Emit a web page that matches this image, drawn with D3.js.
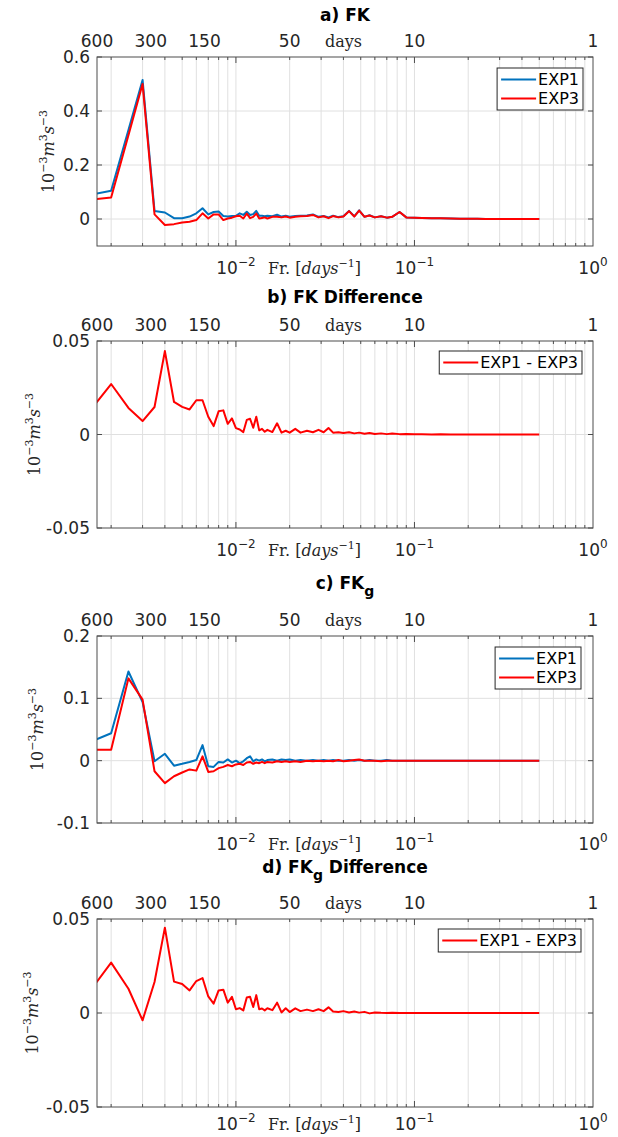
<!DOCTYPE html>
<html>
<head>
<meta charset="utf-8">
<script src="https://cdn.jsdelivr.net/npm/d3@7"></script>
<style>
  body { margin: 0; background: #ffffff; }
  svg { display: block; }
</style>
</head>
<body>
<svg id="chart" width="618" height="1137"></svg>
<script>
// ---------------- DATA ----------------
// Frequencies (days^-1) of the spectral estimates (k / 2000 days)
const freq = [
  0.0015, 0.002, 0.0025, 0.003, 0.0035, 0.004, 0.0045, 0.005, 0.0055, 0.006,
  0.0065, 0.007, 0.0075, 0.008, 0.0085, 0.009, 0.0095, 0.01, 0.0105, 0.011,
  0.0115, 0.012, 0.0125, 0.013, 0.0135, 0.014, 0.0145, 0.015,
  0.016, 0.017, 0.018, 0.019, 0.02,
  0.0215, 0.023, 0.025, 0.027, 0.029, 0.031, 0.033, 0.035, 0.0375, 0.04, 0.043, 0.046, 0.049,
  0.0525, 0.056, 0.06, 0.065, 0.07, 0.075, 0.0825, 0.09, 0.1,
  0.11, 0.125, 0.14, 0.16, 0.18, 0.2, 0.225, 0.25,
  0.3, 0.35, 0.4, 0.45, 0.5
];

// a) FK  (10^-3 m^3 s^-3)
const fkExp1 = [
  0.088, 0.105, 0.33, 0.515, 0.030, 0.024, 0.003, 0.003, 0.009, 0.021,
  0.040, 0.017, 0.026, 0.028, 0.011, 0.009, 0.011, 0.012, 0.021, 0.015,
  0.027, 0.015, 0.018, 0.030, 0.012, 0.012, 0.010, 0.012,
  0.010, 0.016, 0.009, 0.012, 0.008,
  0.011, 0.012, 0.013, 0.017, 0.008, 0.011, 0.006, 0.012, 0.007, 0.010, 0.030, 0.010, 0.032,
  0.008, 0.014, 0.006, 0.010, 0.005, 0.008, 0.026, 0.006, 0.005,
  0.004, 0.003, 0.003, 0.002, 0.001, 0.001, 0.001, 0.000,
  0.000, 0.000, 0.000, 0.000, 0.000
];
const fkExp3 = [
  0.070, 0.080, 0.31, 0.500, 0.017, -0.022, -0.019, -0.013, -0.010, -0.004,
  0.021, 0.002, 0.017, 0.017, -0.004, 0.002, 0.005, 0.010, 0.012, 0.002,
  0.020, 0.003, 0.008, 0.020, 0.002, 0.004, 0.006, 0.002,
  0.008, 0.008, 0.006, 0.009, 0.005,
  0.008, 0.010, 0.011, 0.015, 0.006, 0.010, 0.003, 0.011, 0.006, 0.009, 0.029, 0.009, 0.031,
  0.008, 0.013, 0.006, 0.010, 0.005, 0.008, 0.026, 0.006, 0.005,
  0.004, 0.003, 0.003, 0.002, 0.001, 0.001, 0.001, 0.000,
  0.000, 0.000, 0.000, 0.000, 0.000
];
// b) FK Difference (EXP1 - EXP3)
const fkDiff = [
  0.012, 0.027, 0.0142, 0.0072, 0.0147, 0.0446, 0.0174, 0.0148, 0.0134, 0.0183,
  0.0183, 0.0095, 0.0045, 0.0124, 0.0129, 0.0057, 0.0086, 0.0034, 0.0027, 0.0013,
  0.0078, 0.0084, 0.0036, 0.0095, 0.0022, 0.0030, 0.0015, 0.0025,
  0.0013, 0.0060, 0.0010, 0.0020, 0.0010,
  0.0030, 0.0010, 0.0020, 0.0012, 0.0025, 0.0012, 0.0035, 0.0010, 0.0012, 0.0008, 0.0012, 0.0006, 0.0010,
  0.0004, 0.0008, 0.0003, 0.0006, 0.0002, 0.0005, 0.0002, 0.0003, 0.0001,
  0.0001, 0.0000, 0.0001, 0.0000, 0.0000, 0.0000, 0.0000, 0.0000,
  0.0000, 0.0000, 0.0000, 0.0000, 0.0000
];
// c) FKg
const fkgExp1 = [
  0.029, 0.044, 0.143, 0.094, -0.001, 0.011, -0.008, -0.005, -0.002, 0.001,
  0.025, -0.009, -0.010, -0.002, -0.003, 0.002, -0.003, 0.000, -0.004, -0.001,
  0.004, 0.007, -0.001, 0.002, 0.000, 0.002, -0.001, 0.001,
  0.002, 0.000, 0.002, 0.001, 0.002,
  0.000, 0.001, 0.000, 0.001, 0.000, 0.001, 0.000, 0.001, 0.000, 0.000, 0.001, 0.000, 0.001,
  0.000, 0.001, 0.000, 0.000, 0.001, 0.000, 0.000, 0.000, 0.000,
  0.000, 0.000, 0.000, 0.000, 0.000, 0.000, 0.000, 0.000,
  0.000, 0.000, 0.000, 0.000, 0.000
];
const fkgExp3 = [
  0.0176, 0.0176, 0.132, 0.098, -0.017, -0.036, -0.025, -0.019, -0.014, -0.016,
  0.007, -0.018, -0.017, -0.012, -0.010, -0.007, -0.009, -0.006, -0.005, -0.007,
  -0.003, -0.002, -0.005, -0.003, -0.004, -0.002, -0.004, -0.002,
  -0.003, -0.001, -0.002, -0.001, -0.002,
  -0.001, -0.002, 0.000, -0.001, 0.000, -0.001, 0.000, -0.001, 0.001, -0.001, 0.000, 0.001, 0.002,
  0.000, 0.000, 0.000, -0.001, 0.000, 0.000, 0.000, 0.000, 0.000,
  0.000, 0.000, 0.000, 0.000, 0.000, 0.000, 0.000, 0.000,
  0.000, 0.000, 0.000, 0.000, 0.000
];
// d) FKg Difference (EXP1 - EXP3)
const fkgDiff = [
  0.0109, 0.0268, 0.0129, -0.0039, 0.0165, 0.0454, 0.0167, 0.0154, 0.0120, 0.0170,
  0.0186, 0.0088, 0.0050, 0.0120, 0.0124, 0.0055, 0.0086, 0.0020, 0.0026, 0.0014,
  0.0082, 0.0086, 0.0032, 0.0095, 0.0020, 0.0024, 0.0014, 0.0025,
  0.0015, 0.0055, 0.0003, 0.0025, 0.0005,
  0.0025, 0.0010, 0.0018, 0.0010, 0.0020, 0.0010, 0.0030, 0.0008, 0.0005, 0.0010, 0.0003, 0.0008, 0.0002,
  0.0006, -0.0002, 0.0003, 0.0001, 0.0000, 0.0001, 0.0000, 0.0000, 0.0000,
  0.0000, 0.0000, 0.0000, 0.0000, 0.0000, 0.0000, 0.0000, 0.0000,
  0.0000, 0.0000, 0.0000, 0.0000, 0.0000
];

// Axis tick definitions
const topTickDays   = [600, 300, 150, 50, 25, 10, 1];
const topTickLabels = ["600", "300", "150", "50", "days", "10", "1"];
const bottomTickValues = [0.01, 0.1, 1];
const bottomTickExps   = ["-2", "-1", "0"];
const yTicksFK      = [0, 0.2, 0.4, 0.6];
const yTicksDiff    = [-0.05, 0, 0.05];
const yTicksFKg     = [-0.1, 0, 0.1, 0.2];
const yDomainFK     = [-0.1, 0.6];
const yDomainDiff   = [-0.05, 0.05];
const yDomainFKg    = [-0.1, 0.2];
const xDomain       = [1 / 600, 1];

const seriesNames = ["EXP1", "EXP3", "EXP1 - EXP3"];
const colorExp1 = "#0072BD";
const colorExp3 = "#FF0000";

// ---------------- LAYOUT ----------------
const SANS = "'DejaVu Sans', sans-serif";
const SERIF = "'DejaVu Serif', serif";
const left = 97, right = 593;

const panels = [
  { title: "a) FK", sub: null, rest: "", yDomain: yDomainFK, yTicks: yTicksFK,
    series: [{ name: seriesNames[0], values: fkExp1, color: colorExp1 },
             { name: seriesNames[1], values: fkExp3, color: colorExp3 }],
    top: 57, bottom: 246, titleY: 21, xlabelY: 274, ylabelX: 54, legendRight: 583, legendTop: 68 },
  { title: "b) FK Difference", sub: null, rest: "", yDomain: yDomainDiff, yTicks: yTicksDiff,
    series: [{ name: seriesNames[2], values: fkDiff, color: colorExp3 }],
    top: 341, bottom: 528, titleY: 303, xlabelY: 556, ylabelX: 40, legendRight: 582, legendTop: 351 },
  { title: "c) FK", sub: "g", rest: "", yDomain: yDomainFKg, yTicks: yTicksFKg,
    series: [{ name: seriesNames[0], values: fkgExp1, color: colorExp1 },
             { name: seriesNames[1], values: fkgExp3, color: colorExp3 }],
    top: 636, bottom: 823, titleY: 589, xlabelY: 850, ylabelX: 43, legendRight: 581, legendTop: 647 },
  { title: "d) FK", sub: "g", rest: " Difference", yDomain: yDomainDiff, yTicks: yTicksDiff,
    series: [{ name: seriesNames[2], values: fkgDiff, color: colorExp3 }],
    top: 919, bottom: 1107, titleY: 873, xlabelY: 1130, ylabelX: 38, legendRight: 581, legendTop: 929 }
];

const svg = d3.select("#chart");
svg.append("rect").attr("width", 618).attr("height", 1137).attr("fill", "#fff");

const x = d3.scaleLog().domain(xDomain).range([left, right]);
const xGridVals = x.ticks().filter(v => v > xDomain[0] * 1.0001 && v < xDomain[1] * 0.9999);
const isMajor = v => Math.abs(Math.log10(v) - Math.round(Math.log10(v))) < 1e-9;

panels.forEach((p, i) => {
  const g = svg.append("g");
  const y = d3.scaleLinear().domain(p.yDomain).range([p.bottom, p.top]);

  // grid
  g.append("g").selectAll("line").data(xGridVals).join("line")
    .attr("x1", d => x(d)).attr("x2", d => x(d))
    .attr("y1", p.top).attr("y2", p.bottom)
    .attr("stroke", "#e0e0e0").attr("stroke-width", 1);
  g.append("g").selectAll("line").data(p.yTicks.filter(v => v > p.yDomain[0] && v < p.yDomain[1])).join("line")
    .attr("x1", left).attr("x2", right)
    .attr("y1", d => y(d)).attr("y2", d => y(d))
    .attr("stroke", "#e0e0e0").attr("stroke-width", 1);

  // clip
  const clipId = "clip" + i;
  svg.append("clipPath").attr("id", clipId).append("rect")
    .attr("x", left).attr("y", p.top).attr("width", right - left).attr("height", p.bottom - p.top);

  // lines
  const line = d3.line().x(d => x(d[0])).y(d => y(d[1]));
  p.series.forEach(s => {
    g.append("path")
      .attr("clip-path", `url(#${clipId})`)
      .attr("d", line(freq.map((f, j) => [f, s.values[j]])))
      .attr("fill", "none").attr("stroke", s.color)
      .attr("stroke-width", 2).attr("stroke-linejoin", "round");
  });

  // box
  g.append("rect").attr("x", left).attr("y", p.top)
    .attr("width", right - left).attr("height", p.bottom - p.top)
    .attr("fill", "none").attr("stroke", "#4d4d4d").attr("stroke-width", 1);

  // x ticks (top & bottom, inside)
  const tickG = g.append("g").attr("stroke", "#4d4d4d").attr("stroke-width", 1);
  xGridVals.forEach(v => {
    const len = isMajor(v) ? 6 : 3;
    tickG.append("line").attr("x1", x(v)).attr("x2", x(v)).attr("y1", p.bottom).attr("y2", p.bottom - len);
    tickG.append("line").attr("x1", x(v)).attr("x2", x(v)).attr("y1", p.top).attr("y2", p.top + len);
  });
  p.yTicks.forEach(v => {
    tickG.append("line").attr("x1", left).attr("x2", left + 5).attr("y1", y(v)).attr("y2", y(v));
    tickG.append("line").attr("x1", right).attr("x2", right - 5).attr("y1", y(v)).attr("y2", y(v));
  });

  // y tick labels
  g.append("g").selectAll("text").data(p.yTicks).join("text")
    .attr("x", left - 7).attr("y", d => y(d)).attr("dy", "0.36em")
    .attr("text-anchor", "end").attr("font-family", SANS).attr("font-size", 17)
    .attr("fill", "#262626")
    .text(d => String(d));

  // top (days) tick labels
  g.append("g").selectAll("text").data(topTickDays).join("text")
    .attr("x", d => x(1 / d)).attr("y", p.top - 10)
    .attr("text-anchor", "middle")
    .attr("font-family", (d, j) => topTickLabels[j] === "days" ? SERIF : SANS)
    .attr("font-size", (d, j) => topTickLabels[j] === "days" ? 16 : 17)
    .attr("fill", "#262626")
    .text((d, j) => topTickLabels[j]);

  // bottom tick labels 10^n
  bottomTickValues.forEach((v, j) => {
    const t = g.append("text").attr("x", x(v)).attr("y", p.xlabelY)
      .attr("text-anchor", "middle").attr("font-family", SANS).attr("font-size", 17)
      .attr("fill", "#262626");
    t.append("tspan").text("10");
    t.append("tspan").attr("dy", -8).attr("font-size", 12).text(bottomTickExps[j].replace("-", "\u2212"));
  });

  // x label
  const xl = g.append("text").attr("x", 268).attr("y", p.xlabelY)
    .attr("font-family", SERIF).attr("font-size", 16).attr("fill", "#262626");
  xl.append("tspan").text("Fr. [");
  xl.append("tspan").attr("font-style", "italic").text("days");
  xl.append("tspan").attr("dy", -7).attr("font-size", 11).text("\u22121");
  xl.append("tspan").attr("dy", 7).text("]");

  // y label
  const yl = g.append("text")
    .attr("transform", `translate(${p.ylabelX},${(p.top + p.bottom) / 2}) rotate(-90)`)
    .attr("text-anchor", "middle").attr("font-family", SERIF).attr("font-size", 16)
    .attr("fill", "#262626");
  yl.append("tspan").text("10");
  yl.append("tspan").attr("dy", -7).attr("font-size", 11).text("\u22123");
  yl.append("tspan").attr("dy", 7).attr("font-style", "italic").text("m");
  yl.append("tspan").attr("dy", -7).attr("font-size", 11).text("3");
  yl.append("tspan").attr("dy", 7).attr("font-style", "italic").text("s");
  yl.append("tspan").attr("dy", -7).attr("font-size", 11).text("\u22123");

  // title
  const tt = g.append("text").attr("x", (left + right) / 2).attr("y", p.titleY)
    .attr("text-anchor", "middle").attr("font-family", SANS).attr("font-weight", "bold")
    .attr("font-size", 17).attr("fill", "#000");
  tt.append("tspan").text(p.title);
  if (p.sub) {
    tt.append("tspan").attr("dy", 7).attr("font-size", 14).text(p.sub);
    if (p.rest) tt.append("tspan").attr("dy", -7).text(p.rest);
  }

  // legend
  const rowH = 19, lineLen = 35;
  const lg = g.append("g");
  const texts = p.series.map(s => s.name);
  const tmp = lg.append("text").attr("font-family", SANS).attr("font-size", 16).text(texts.reduce((a, b) => a.length > b.length ? a : b));
  const tw = tmp.node().getComputedTextLength();
  tmp.remove();
  const lw = 4 + lineLen + 2 + tw + 4;
  const lh = p.series.length * rowH + 4;
  const lx = p.legendRight - lw, ly = p.legendTop;
  lg.append("rect").attr("x", lx).attr("y", ly).attr("width", lw).attr("height", lh)
    .attr("fill", "#fff").attr("stroke", "#262626").attr("stroke-width", 1);
  p.series.forEach((s, j) => {
    const cy = ly + 2 + rowH * j + rowH / 2;
    lg.append("line").attr("x1", lx + 4).attr("x2", lx + 4 + lineLen)
      .attr("y1", cy).attr("y2", cy).attr("stroke", s.color).attr("stroke-width", 2);
    lg.append("text").attr("x", lx + 4 + lineLen + 2).attr("y", cy).attr("dy", "0.36em")
      .attr("font-family", SANS).attr("font-size", 16).attr("fill", "#000").text(s.name);
  });
});
</script>
</body>
</html>
